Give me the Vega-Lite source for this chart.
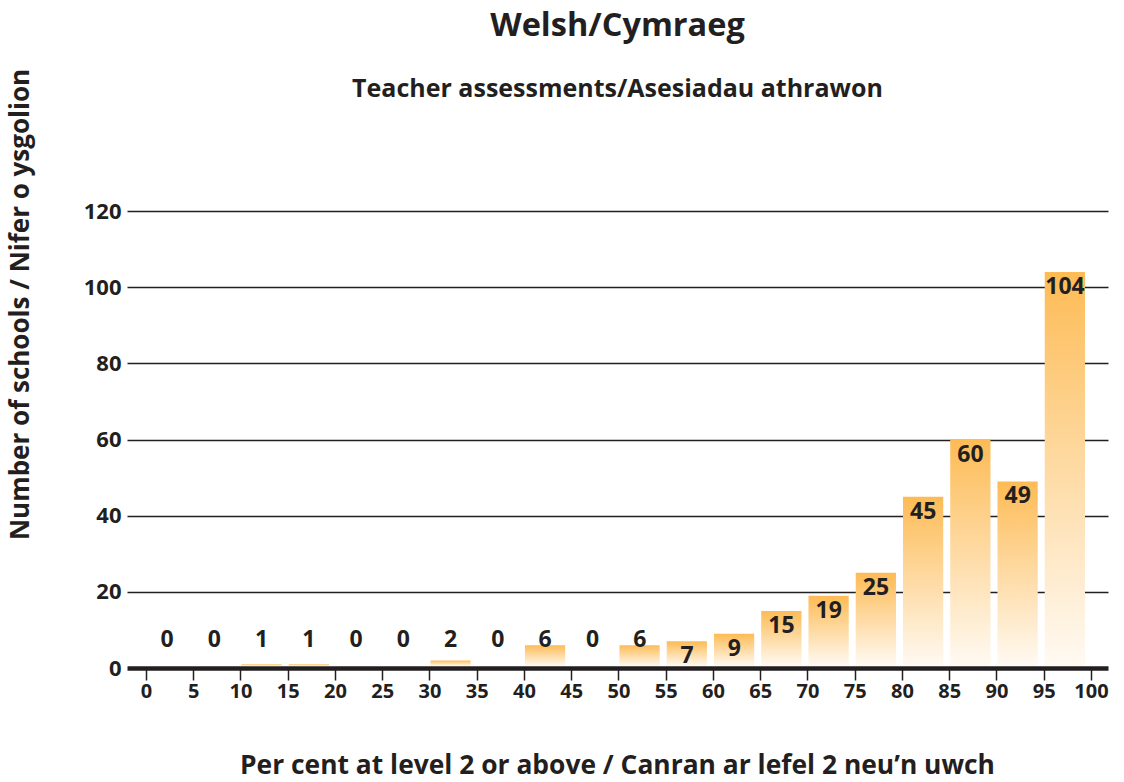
{
  "$schema": "https://vega.github.io/schema/vega-lite/v6.json",
  "autosize": "none",
  "width": 981,
  "height": 457,
  "padding": {"left": 127, "top": 211, "right": 16, "bottom": 114},
  "background": "white",
  "config": {
    "font": "Open Sans",
    "view": {"stroke": null},
    "axis": {"labelColor": "#231f20", "titleColor": "#231f20", "labelFontWeight": "bold", "titleFontWeight": "bold"}
  },
  "title": {
    "text": "Welsh/Cymraeg",
    "subtitle": "Teacher assessments/Asesiadau athrawon",
    "anchor": "middle",
    "frame": "group",
    "fontSize": 32.5,
    "font": "Open Sans",
    "fontWeight": "bold",
    "color": "#231f20",
    "subtitleFontSize": 25,
    "subtitleFont": "Open Sans",
    "subtitleFontWeight": "bold",
    "subtitleColor": "#231f20",
    "subtitlePadding": 35,
    "offset": -34
  },
  "data": {
    "values": [
      {"lo": 0, "hi": 5, "n": 0},
      {"lo": 5, "hi": 10, "n": 0},
      {"lo": 10, "hi": 15, "n": 1},
      {"lo": 15, "hi": 20, "n": 1},
      {"lo": 20, "hi": 25, "n": 0},
      {"lo": 25, "hi": 30, "n": 0},
      {"lo": 30, "hi": 35, "n": 2},
      {"lo": 35, "hi": 40, "n": 0},
      {"lo": 40, "hi": 45, "n": 6},
      {"lo": 45, "hi": 50, "n": 0},
      {"lo": 50, "hi": 55, "n": 6},
      {"lo": 55, "hi": 60, "n": 7},
      {"lo": 60, "hi": 65, "n": 9},
      {"lo": 65, "hi": 70, "n": 15},
      {"lo": 70, "hi": 75, "n": 19},
      {"lo": 75, "hi": 80, "n": 25},
      {"lo": 80, "hi": 85, "n": 45},
      {"lo": 85, "hi": 90, "n": 60},
      {"lo": 90, "hi": 95, "n": 49},
      {"lo": 95, "hi": 100, "n": 104}
    ]
  },
  "layer": [
    {
      "transform": [{"filter": "datum.n > 0"}],
      "mark": {
        "type": "bar",
        "xOffset": 1,
        "x2Offset": -6,
        "y2Offset": -2,
        "color": {
          "gradient": "linear",
          "x1": 0, "y1": 0, "x2": 0, "y2": 1,
          "stops": [
            {"offset": 0, "color": "#FDBB55"},
            {"offset": 1, "color": "#FFFAF3"}
          ]
        }
      },
      "encoding": {
        "x": {
          "field": "lo",
          "type": "quantitative",
          "scale": {"domain": [-2, 101.8], "nice": false, "zero": false},
          "axis": {
            "values": [0, 5, 10, 15, 20, 25, 30, 35, 40, 45, 50, 55, 60, 65, 70, 75, 80, 85, 90, 95, 100],
            "domain": false,
            "grid": false,
            "ticks": true,
            "tickSize": 12,
            "tickWidth": 1.5,
            "tickColor": "#231f20",
            "labelFontSize": 20,
            "labelPadding": 1,
            "labelFlush": false,
            "labelOverlap": false,
            "title": "Per cent at level 2 or above / Canran ar lefel 2 neu\u2019n uwch",
            "titleFontSize": 26.4,
            "titleX": 490,
            "titleY": 97,
            "titleAlign": "center",
            "titleBaseline": "middle"
          }
        },
        "x2": {"field": "hi"},
        "y": {
          "field": "n",
          "type": "quantitative",
          "scale": {"domain": [0, 120], "nice": false},
          "axis": {
            "values": [0, 10, 20, 30, 40, 50, 60, 70, 80, 90, 100, 110, 120],
            "labelExpr": "datum.value % 20 == 0 ? datum.label : ''",
            "domain": false,
            "ticks": false,
            "grid": true,
            "gridColor": {"condition": {"test": "datum.value % 20 != 0", "value": "#555555"}, "value": "#231f20"},
            "gridWidth": {"condition": {"test": "datum.value == 0", "value": 4.5}, "value": 1.3},
            "labelFontSize": 22,
            "labelPadding": 6,
            "title": "Number of schools / Nifer o ysgolion",
            "titleFontSize": 26,
            "titleAngle": -90,
            "titleX": -107,
            "titleY": 93,
            "titleAlign": "center",
            "titleBaseline": "middle"
          }
        },
        "y2": {"datum": 0}
      }
    },
    {
      "transform": [
        {"calculate": "datum.lo + 2.25", "as": "mid"},
        {"calculate": "datum.n < 7 ? 11.3 : datum.n", "as": "ly"}
      ],
      "mark": {"type": "text", "dy": 15, "fontSize": 23, "fontWeight": "bold", "font": "Open Sans", "color": "#231f20", "baseline": "middle", "align": "center"},
      "encoding": {
        "x": {"field": "mid", "type": "quantitative"},
        "y": {"field": "ly", "type": "quantitative"},
        "text": {"field": "n", "type": "quantitative"}
      }
    }
  ]
}
